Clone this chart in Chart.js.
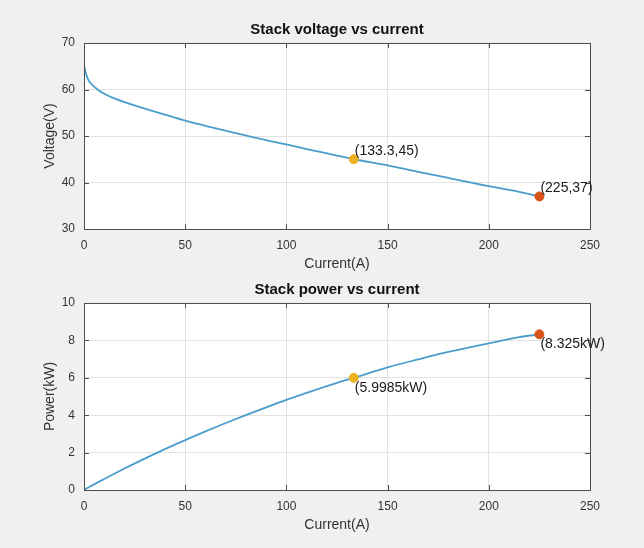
<!DOCTYPE html>
<html>
<head>
<meta charset="utf-8">
<script src="https://cdn.jsdelivr.net/npm/chart.js@4"></script>
<style>
    html, body { margin: 0; padding: 0; background: #f0f0f0; }
    #wrap { position: relative; width: 644px; height: 548px; overflow: hidden; background: #f0f0f0; }
    canvas { position: absolute; left: 0; }
    #grafico1 { top: 0; }
    #grafico2 { top: 260px; }
</style>
</head>
<body>
<div id="wrap">
    <canvas id="grafico2" width="644" height="288"></canvas>
    <canvas id="grafico1" width="644" height="274"></canvas>
</div>
<script>
// values
const current = [0, 1, 2, 3, 5, 7, 10, 15, 20, 30, 40, 50, 60, 75, 90, 100, 110, 125, 133.3, 150, 165, 180, 200, 215, 225];
const voltage = [65.2, 63.4, 62.2, 61.5, 60.6, 59.9, 59.1, 58.1, 57.3, 55.9, 54.6, 53.3, 52.2, 50.6, 49.1, 48.2, 47.2, 45.8, 45.0, 43.7, 42.3, 41.0, 39.2, 38.0, 37.0];
const power = [0, 0.063, 0.124, 0.185, 0.303, 0.419, 0.591, 0.872, 1.146, 1.677, 2.184, 2.665, 3.132, 3.795, 4.419, 4.82, 5.192, 5.725, 5.9985, 6.555, 6.98, 7.38, 7.84, 8.17, 8.325];

const markerCurrent = [133.3, 225];
const markerVoltage = [45, 37];
const markerPower = [5.9985, 8.325];
const markerColors = ['#EDB120', '#D95319'];
const voltageLabels = ['(133.3,45)', '(225,37)'];
const powerLabels = ['(5.9985kW)', '(8.325kW)'];

const xTicks = [0, 50, 100, 150, 200, 250];
const voltageTicks = [30, 40, 50, 60, 70];
const powerTicks = [0, 2, 4, 6, 8, 10];

const FONT = "'Liberation Sans', Arial, sans-serif";
const lineColor = '#4a9dcc';

// white plot area, MATLAB style box with inward ticks, title over the axes, point labels
const ejesPlugin = {
    id: 'ejes',
    beforeDraw(chart) {
        const a = chart.chartArea;
        const ctx = chart.ctx;
        ctx.save();
        ctx.fillStyle = '#ffffff';
        ctx.fillRect(a.left, a.top, a.right - a.left, a.bottom - a.top);
        ctx.restore();
    },
    afterDraw(chart) {
        const a = chart.chartArea;
        const ctx = chart.ctx;
        const sx = chart.scales.x, sy = chart.scales.y;
        const opts = chart.options.plugins.ejes;
        ctx.save();
        ctx.strokeStyle = '#4d4d4d';
        ctx.lineWidth = 1;
        ctx.strokeRect(Math.round(a.left) + 0.5, Math.round(a.top) + 0.5,
            Math.round(a.right - a.left), Math.round(a.bottom - a.top));
        ctx.beginPath();
        sx.ticks.forEach(t => {
            const px = Math.round(sx.getPixelForValue(t.value)) + 0.5;
            ctx.moveTo(px, a.bottom); ctx.lineTo(px, a.bottom - 5);
            ctx.moveTo(px, a.top); ctx.lineTo(px, a.top + 5);
        });
        sy.ticks.forEach(t => {
            const py = Math.round(sy.getPixelForValue(t.value)) + 0.5;
            ctx.moveTo(a.left, py); ctx.lineTo(a.left + 5, py);
            ctx.moveTo(a.right, py); ctx.lineTo(a.right - 5, py);
        });
        ctx.stroke();

        // title centred over the axes box
        ctx.font = 'bold 15px ' + FONT;
        ctx.fillStyle = '#111';
        ctx.textAlign = 'center';
        ctx.textBaseline = 'middle';
        ctx.fillText(opts.titulo, (a.left + a.right) / 2, a.top - 13);

        const notas = opts.notas || [];
        ctx.font = '14px ' + FONT;
        ctx.fillStyle = '#1a1a1a';
        ctx.textAlign = 'left';
        notas.forEach(n => {
            const px = sx.getPixelForValue(n.x);
            const py = sy.getPixelForValue(n.y);
            if (n.below) {
                ctx.textBaseline = 'top';
                ctx.fillText(n.text, px + 1, py + 3);
            } else {
                ctx.textBaseline = 'bottom';
                ctx.fillText(n.text, px + 1, py - 1);
            }
        });
        ctx.restore();
    }
};

function crearGrafico(id, titulo, yLabel, yValues, yTicks, markerY, labels, below, bottomPad) {
    const ctx = document.getElementById(id).getContext('2d');
    const lineData = current.map((c, i) => ({ x: c, y: yValues[i] }));
    const markers = markerCurrent.map((c, i) => ({
        type: 'scatter',
        data: [{ x: c, y: markerY[i] }],
        pointRadius: 4.5,
        pointBackgroundColor: markerColors[i],
        pointBorderColor: markerColors[i],
        showLine: false
    }));
    return new Chart(ctx, {
        type: 'scatter',
        data: {
            datasets: markers.concat([{
                data: lineData,
                showLine: true,
                borderColor: lineColor,
                borderWidth: 1.8,
                pointRadius: 0,
                cubicInterpolationMode: 'monotone'
            }])
        },
        options: {
            responsive: false,
            animation: false,
            events: [],
            layout: { padding: { top: 43, left: 0, right: 54, bottom: bottomPad } },
            plugins: {
                legend: { display: false },
                tooltip: { enabled: false },
                title: { display: false },
                ejes: {
                    titulo: titulo,
                    notas: markerCurrent.map((c, i) => ({ x: c, y: markerY[i], text: labels[i], below: below }))
                }
            },
            scales: {
                x: {
                    type: 'linear',
                    min: 0, max: 250,
                    afterBuildTicks: s => { s.ticks = xTicks.map(v => ({ value: v })); },
                    afterFit: s => { s.height = 45; },
                    grid: { color: '#e1e1e1', drawTicks: false },
                    border: { display: false },
                    ticks: { padding: 9, color: '#333', font: { family: FONT, size: 12 } },
                    title: {
                        display: true,
                        text: 'Current(A)',
                        color: '#333',
                        font: { family: FONT, size: 14, lineHeight: 1.2 },
                        padding: { top: 0, bottom: 1 }
                    }
                },
                y: {
                    type: 'linear',
                    min: yTicks[0], max: yTicks[yTicks.length - 1],
                    afterBuildTicks: s => { s.ticks = yTicks.map(v => ({ value: v })); },
                    afterFit: s => { s.width = 84; },
                    grid: { color: '#e1e1e1', drawTicks: false },
                    border: { display: false },
                    ticks: { padding: 9, color: '#333', font: { family: FONT, size: 12 } },
                    title: {
                        display: true,
                        text: yLabel,
                        color: '#333',
                        font: { family: FONT, size: 14, lineHeight: 1.2 },
                        padding: { top: 42, bottom: 0 }
                    }
                }
            }
        },
        plugins: [ejesPlugin]
    });
}

document.addEventListener('DOMContentLoaded', function() {
    window.graficaVoltaje = crearGrafico('grafico1', 'Stack voltage vs current', 'Voltage(V)',
        voltage, voltageTicks, markerVoltage, voltageLabels, false, 0);
    window.graficaPotencia = crearGrafico('grafico2', 'Stack power vs current', 'Power(kW)',
        power, powerTicks, markerPower, powerLabels, true, 13);
});
</script>
</body>
</html>
